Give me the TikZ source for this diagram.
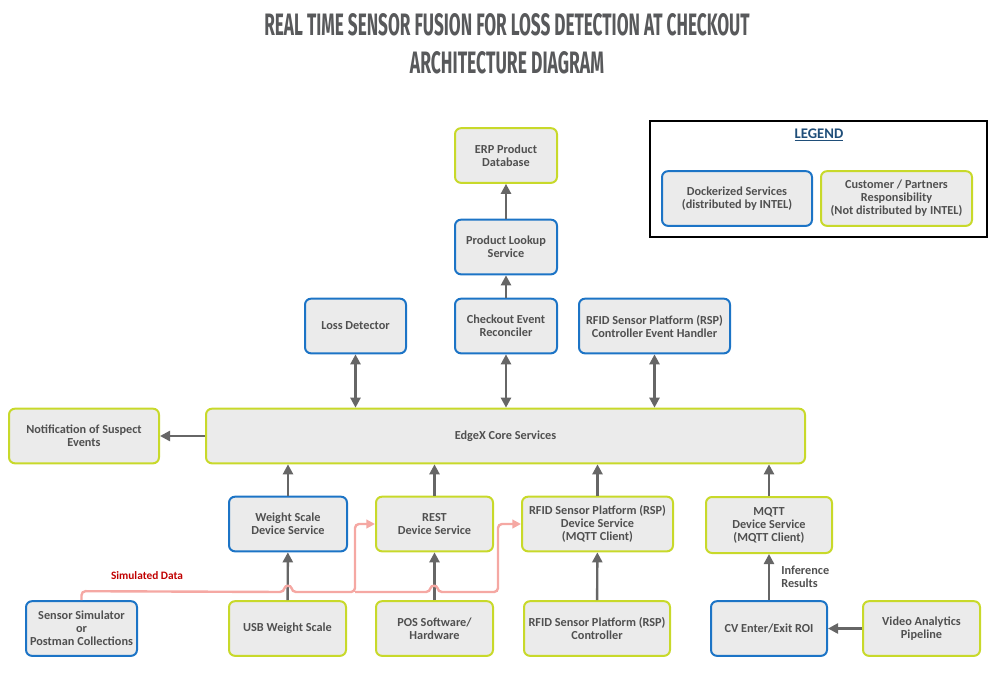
\documentclass[tikz,border=0pt]{standalone}
\usepackage{fontspec}
\usepackage{graphicx}
\setmainfont{Carlito}
\newfontfamily\titlefont{Fira Sans}
\usetikzlibrary{positioning,arrows.meta}
\definecolor{dockBlue}{HTML}{1C74C6}
\definecolor{custLime}{HTML}{C8D92A}
\definecolor{boxFill}{HTML}{EBEBEB}
\definecolor{lineGray}{HTML}{666666}
\definecolor{textGray}{HTML}{505050}
\definecolor{titleGray}{HTML}{58595B}
\definecolor{simPink}{HTML}{F5A8A3}
\definecolor{simRed}{HTML}{C00000}
\definecolor{legendBlue}{HTML}{1F4E79}
\begin{document}
\begin{tikzpicture}[x=0.75pt, y=-0.75pt,
            bNode/.style={rectangle, rounded corners=4.5pt, fill=boxFill, line width=1.5pt, text=textGray,
                font=\bfseries\fontsize{9.2}{9.75}\selectfont, align=center, inner sep=2pt, minimum height=41pt},
            dNode/.style={bNode, draw=dockBlue},
            cNode/.style={bNode, draw=custLime},
            bw/.style={minimum width=#1*0.75pt},
            bh/.style={minimum height=#1*0.75pt},
            flow/.style={draw=lineGray, line width=1.8pt, -{Triangle[length=7.5pt,width=7.5pt]}},
            both/.style={flow, {Triangle[length=7.5pt,width=7.5pt]}-{Triangle[length=7.5pt,width=7.5pt]}},
            simLine/.style={draw=simPink, line width=1.8pt, rounded corners=3pt, -{Triangle[length=6.5pt,width=6.5pt]}},
            lbl/.style={text=textGray, font=\bfseries\fontsize{9.2}{9.75}\selectfont, align=left}
        ]
        \useasboundingbox (0,0) rectangle (999,676);

        % title
        \node [text=titleGray] (title1) at (507,25) {\resizebox{364pt}{16.5pt}{\titlefont\bfseries REAL TIME SENSOR FUSION FOR LOSS DETECTION AT CHECKOUT}};
        \node [text=titleGray] (title2) at (507,63) {\resizebox{145.5pt}{16.5pt}{\titlefont\bfseries ARCHITECTURE DIAGRAM}};

        % legend
        \node [draw=black, line width=1.5pt, minimum width=337*0.75pt, minimum height=116*0.75pt] (legendBox) at (818.5,179) {};
        \node [text=legendBlue, font=\bfseries\fontsize{11}{12}\selectfont] (legendTitle) at (819,135) {\underline{LEGEND}};
        \node [dNode, bw=150] (legDock) at (737,198.5) {Dockerized Services\\(distributed by INTEL)};
        \node [cNode, bw=151] (legCust) at (896.5,198.5) {Customer / Partners\\Responsibility\\(Not distributed by INTEL)};

        % services
        \node [cNode, bw=102] (erp) at (506,155.5) {ERP Product\\Database};
        \node [dNode, bw=102] (pls) at (506,247) {Product Lookup\\Service};
        \node [dNode, bw=102] (cer) at (506,326) {Checkout Event\\Reconciler};
        \node [dNode, bw=101] (ld) at (355.5,326) {Loss Detector};
        \node [dNode, bw=151] (rspH) at (654.5,326) {RFID Sensor Platform (RSP)\\Controller Event Handler};
        \node [cNode, bw=599] (edgex) at (505.5,436) {EdgeX Core Services};
        \node [cNode, bw=150] (notif) at (84,436) {Notification of Suspect\\Events};
        \node [dNode, bw=118] (wsds) at (288,524) {Weight Scale\\Device Service};
        \node [cNode, bw=117] (rest) at (434.5,524) {REST\\Device Service};
        \node [cNode, bw=151] (rspDs) at (597.5,524) {RFID Sensor Platform (RSP)\\Device Service\\(MQTT Client)};
        \node [cNode, bw=126, bh=56] (mqtt) at (769,525) {MQTT\\Device Service\\(MQTT Client)};

        % sources
        \node [dNode, bw=111] (sim) at (81.5,628.5) {Sensor Simulator\\or\\Postman Collections};
        \node [cNode, bw=117] (usb) at (287.5,628.5) {USB Weight Scale};
        \node [cNode, bw=117] (pos) at (434.5,628.5) {POS Software/\\Hardware};
        \node [cNode, bw=146] (rspCtl) at (597,628.5) {RFID Sensor Platform (RSP)\\Controller};
        \node [dNode, bw=116] (cv) at (769,628.5) {CV Enter/Exit ROI};
        \node [cNode, bw=117] (vap) at (921.5,628.5) {Video Analytics\\Pipeline};

        % connectors
        \draw [flow] (pls) -- (erp);
        \draw [flow] (cer) -- (pls);
        \draw [both] (ld.south) -- (ld.south |- edgex.north);
        \draw [both] (cer.south) -- (cer.south |- edgex.north);
        \draw [both] (rspH.south) -- (rspH.south |- edgex.north);
        \draw [flow] (edgex.west) -- (notif.east);
        \draw [flow] (wsds.north) -- (wsds.north |- edgex.south);
        \draw [flow] (rest.north) -- (rest.north |- edgex.south);
        \draw [flow] (rspDs.north) -- (rspDs.north |- edgex.south);
        \draw [flow] (mqtt.north) -- (mqtt.north |- edgex.south);
        \draw [flow] (usb) -- (wsds);
        \draw [flow] (pos) -- (rest);
        \draw [flow] (rspCtl) -- (rspDs);
        \draw [flow] (cv) -- node [lbl, right=5pt] (infLbl) {Inference\\Results} (mqtt);
        \draw [flow] (vap) -- (cv);

        % simulated data
        \draw [simLine] (sim.north) -- ++(0,-9) -- (284,592) .. controls (285,585) and (291,585) .. (292,592)
            -- (355,592) coordinate (simTurn) |- (rest.west);
        \draw [simLine] (simTurn) -- (430,592) .. controls (431,585) and (437,585) .. (438,592)
            -- (498,592) |- (rspDs.west);
        \node [text=simRed, font=\bfseries\fontsize{8.5}{9}\selectfont] (simLbl) at (147,576) {Simulated Data};

    \end{tikzpicture}
\end{document}
